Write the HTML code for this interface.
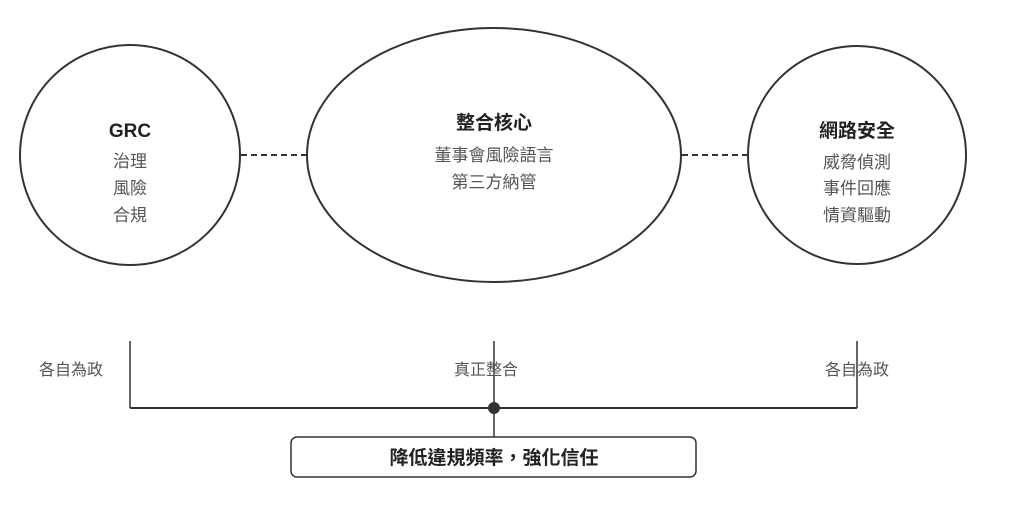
<!DOCTYPE html>
<html><head><meta charset="utf-8"><style>
body{margin:0;background:#fff;}
svg text{font-family:"Liberation Sans","Noto Sans CJK TC",sans-serif;}
</style></head><body>
<svg width="1017" height="506" viewBox="0 0 1017 506" xmlns="http://www.w3.org/2000/svg">
<g fill="none" stroke="#333" stroke-width="2">
<ellipse cx="130" cy="155" rx="110" ry="110"/>
<ellipse cx="494" cy="155" rx="187" ry="127"/>
<ellipse cx="857" cy="155" rx="109" ry="109"/>
<line x1="241" y1="155" x2="307" y2="155" stroke-dasharray="6,4"/>
<line x1="682" y1="155" x2="747" y2="155" stroke-dasharray="6,4"/>
<line x1="130" y1="341" x2="130" y2="408" stroke-width="1.5"/>
<line x1="494" y1="341" x2="494" y2="437" stroke-width="1.5"/>
<line x1="857" y1="341" x2="857" y2="408" stroke-width="1.5"/>
<line x1="130" y1="408" x2="857" y2="408"/>
<rect x="291" y="437" width="405" height="40" rx="6" stroke-width="1.5"/>
</g>
<circle cx="494" cy="408" r="6" fill="#333"/>
<g text-anchor="middle" font-size="17" fill="#555">
<text x="130" y="137" font-size="19" font-weight="bold" fill="#222">GRC</text>
<text x="130" y="167">治理</text>
<text x="130" y="194">風險</text>
<text x="130" y="221">合規</text>
<text x="494" y="129" font-size="19" font-weight="bold" fill="#222">整合核心</text>
<text x="494" y="161">董事會風險語言</text>
<text x="494" y="188">第三方納管</text>
<text x="857" y="137" font-size="19" font-weight="bold" fill="#222">網路安全</text>
<text x="857" y="168">威脅偵測</text>
<text x="857" y="194">事件回應</text>
<text x="857" y="221">情資驅動</text>
<text x="71" y="375" font-size="16">各自為政</text>
<text x="486" y="375" font-size="16">真正整合</text>
<text x="857" y="375" font-size="16">各自為政</text>
<text x="494" y="464" font-size="19" font-weight="bold" fill="#222">降低違規頻率，強化信任</text>
</g>
</svg>
</body></html>
